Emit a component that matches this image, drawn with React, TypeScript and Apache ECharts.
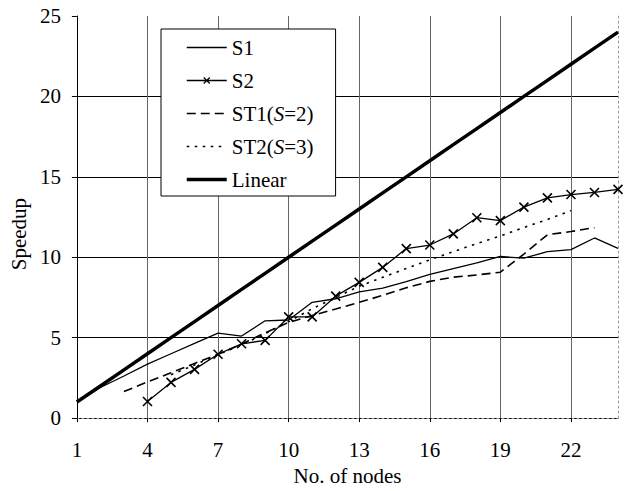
import React, { useEffect, useRef } from "react";
import * as echarts from "echarts";

const nodes = ["1","2","3","4","5","6","7","8","9","10","11","12","13","14","15","16","17","18","19","20","21","22","23","24"];
const s1 = [1, 1.9, 2.62, 3.36, 4.0, 4.64, 5.28, 5.1, 6.05, 6.1, 7.2, 7.42, 7.85, 8.08, 8.48, 8.93, 9.3, 9.65, 10.05, 9.94, 10.35, 10.47, 11.2, 10.55];
const s2 = [null, null, null, 1.03, 2.22, 3.03, 3.97, 4.62, 4.83, 6.29, 6.29, 7.58, 8.44, 9.37, 10.54, 10.76, 11.45, 12.46, 12.28, 13.12, 13.69, 13.9, 14.03, 14.22];
const st1 = [null, null, 1.65, 2.25, 2.82, 3.4, 3.97, 4.6, 5.3, 5.95, 6.38, 6.78, 7.2, 7.63, 8.1, 8.5, 8.76, 8.9, 9.07, 10.2, 11.4, 11.6, 11.84, null];
const st2 = [null, null, null, null, 2.7, 3.3, 3.95, 4.55, 5.25, 6.0, 6.8, 7.5, 8.2, 8.75, 9.3, 9.84, 10.35, 10.85, 11.32, 11.85, 12.35, 12.9, null, null];
const linear = [1, 2, 3, 4, 5, 6, 7, 8, 9, 10, 11, 12, 13, 14, 15, 16, 17, 18, 19, 20, 21, 22, 23, 24];
const yTicks = [0, 5, 10, 15, 20, 25];

const FONT = "'Liberation Serif', 'Times New Roman', serif";

export default function App() {
  const ref = useRef<HTMLDivElement>(null);
  useEffect(() => {
    if (!ref.current) return;
    const chart = echarts.init(ref.current, null, { renderer: "svg" });
    const base = { fontFamily: FONT, fontSize: 21, color: "#000" };
    const hidden = { opacity: 0 };
    chart.setOption({
      animation: false,
      backgroundColor: "#fff",
      textStyle: base,
      grid: { left: 71, right: 9, top: 16, bottom: 64, containLabel: false },
      legend: {
        orient: "vertical",
        left: 161,
        top: 29,
        padding: [8, 22, 6, 24],
        itemWidth: 40,
        itemHeight: 20,
        itemGap: 12,
        backgroundColor: "#fff",
        borderColor: "#000",
        borderWidth: 1,
        borderRadius: 0,
        textStyle: {
          ...base,
          rich: { i: { ...base, fontStyle: "italic" } },
        },
        formatter: (name: string) => name.replace("(S=", "({i|S}="),
        data: [
          { name: "S1", itemStyle: hidden, lineStyle: { width: 1.3 } },
          {
            name: "S2",
            icon: "path://M0,6L40,6M17,3L23,9M17,9L23,3",
            itemStyle: { color: "rgba(0,0,0,0)", borderColor: "#000", borderWidth: 1.3 },
          },
          { name: "ST1(S=2)", itemStyle: hidden, lineStyle: { width: 1.6 } },
          { name: "ST2(S=3)", itemStyle: hidden, lineStyle: { width: 1.6 } },
          { name: "Linear", itemStyle: hidden, lineStyle: { width: 3.5 } },
        ],
      },
      xAxis: [
        {
          type: "category",
          data: nodes,
          boundaryGap: false,
          name: "No. of nodes",
          nameLocation: "middle",
          nameGap: 43,
          nameTextStyle: base,
          axisLine: { lineStyle: { color: "#000", width: 1 } },
          axisTick: { interval: 2, length: 4, lineStyle: { color: "#000" } },
          axisLabel: { interval: 2, margin: 21, ...base },
          splitLine: { show: true, interval: 2, lineStyle: { color: "#666", width: 1 } },
        },
        {
          type: "category",
          data: nodes,
          boundaryGap: false,
          position: "top",
          axisLine: { lineStyle: { color: "#999", width: 1, type: [2, 3] } },
          axisTick: { show: false },
          axisLabel: { show: false },
          splitLine: { show: false },
        },
      ],
      yAxis: [
        {
          type: "value",
          min: yTicks[0],
          max: yTicks[yTicks.length - 1],
          interval: 5,
          name: "Speedup",
          nameLocation: "middle",
          nameGap: 41,
          nameTextStyle: { ...base, padding: [0, 34, 0, 0] },
          axisLine: { show: true, lineStyle: { color: "#000", width: 1 } },
          axisTick: { show: true, length: 5, lineStyle: { color: "#000" } },
          axisLabel: { margin: 16, ...base },
          splitLine: { show: true, showMaxLine: false, lineStyle: { color: "#000", width: 1 } },
        },
        {
          type: "value",
          min: yTicks[0],
          max: yTicks[yTicks.length - 1],
          interval: 5,
          position: "right",
          axisLine: { show: true, lineStyle: { color: "#999", width: 1, type: [2, 3] } },
          axisTick: { show: false },
          axisLabel: { show: false },
          splitLine: { show: false },
        },
      ],
      series: [
        {
          name: "S1",
          type: "line",
          data: s1,
          symbol: "none",
          lineStyle: { color: "#000", width: 1.3 },
          itemStyle: { color: "#000" },
        },
        {
          name: "S2",
          type: "line",
          data: s2,
          symbol: "path://M0,0L10,10M0,10L10,0",
          symbolSize: 9,
          lineStyle: { color: "#000", width: 1.3 },
          itemStyle: { color: "none", borderColor: "#000", borderWidth: 1.6 },
        },
        {
          name: "ST1(S=2)",
          type: "line",
          data: st1,
          symbol: "none",
          lineStyle: { color: "#000", width: 1.6, type: [9, 5] },
          itemStyle: { color: "#000" },
        },
        {
          name: "ST2(S=3)",
          type: "line",
          data: st2,
          symbol: "none",
          lineStyle: { color: "#000", width: 1.6, type: [2.5, 5.5] },
          itemStyle: { color: "#000" },
        },
        {
          name: "Linear",
          type: "line",
          data: linear,
          symbol: "none",
          lineStyle: { color: "#000", width: 3.5 },
          itemStyle: { color: "#000" },
        },
      ],
    });
    return () => chart.dispose();
  }, []);
  return (
    <div
      ref={ref}
      style={{ position: "fixed", left: 0, top: 0, width: 627, height: 491, background: "#fff" }}
    />
  );
}
